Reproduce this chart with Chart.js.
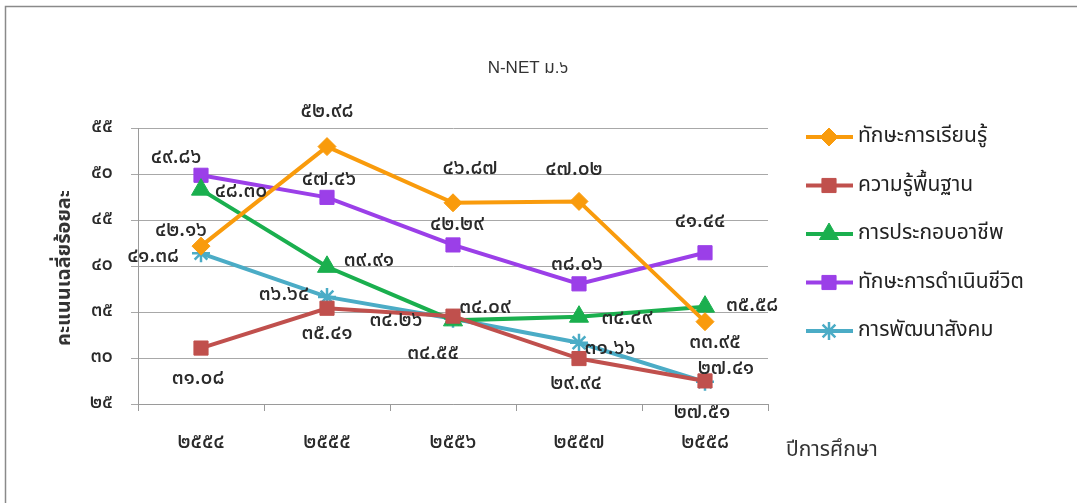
<!DOCTYPE html>
<html>
<head>
<meta charset="utf-8">
<script src="https://cdn.jsdelivr.net/npm/chart.js@4"></script>
<style>
  html, body { margin: 0; padding: 0; background: #fff; }
  #wrap { position: relative; width: 1077px; height: 503px; }
</style>
</head>
<body>
<div id="wrap"><canvas id="chart" width="1077" height="503"></canvas></div>
<script>
const years = ['2554', '2555', '2556', '2557', '2558'];
const seriesNames = ['ทักษะการเรียนรู้', 'ความรู้พื้นฐาน', 'การประกอบอาชีพ', 'ทักษะการดำเนินชีวิต', 'การพัฒนาสังคม'];
const learning = [42.16, 52.98, 46.87, 47.02, 33.95];
const basic = [31.08, 35.41, 34.55, 29.94, 27.51];
const career = [48.30, 39.91, 34.09, 34.49, 35.58];
const living = [49.86, 47.46, 42.29, 38.06, 41.44];
const social = [41.38, 36.64, 34.26, 31.66, 27.41];
const yTicks = [25, 30, 35, 40, 45, 50, 55];

// label offsets from each point, [dx, dy]
const labelOffsets = [
  [[-20, -14], [0, -34], [17, -33], [-5, -31], [10, 22]],
  [[-3, 32], [0, 27], [-20, 39], [-3, 26], [-3, 33]],
  [[40, 3], [42, -5], [32, -12], [48, 3], [47, 0]],
  [[-25, -17], [2, -17], [4, -19], [-2, -18], [-5, -30]],
  [[-48, 4], [-43, -1], [-57, 3], [31, 7], [21, -12]]
];

const thaiDigits = '๐๑๒๓๔๕๖๗๘๙';
function toThai(s) {
  return String(s).replace(/[0-9]/g, d => thaiDigits[+d]);
}

const colors = ['#F99B0C', '#C0504D', '#1AAF4E', '#9B3FE8', '#4BACC6'];
const styles = ['rectRot', 'rect', 'triangle', 'rect', 'star'];
const radii = [9, 10, 11, 10, 9];
const seriesData = [learning, basic, career, living, social];

const thaiFont = '"Noto Sans Thai", "Noto Sans", "DejaVu Sans", sans-serif';

const extras = {
  id: 'extras',
  afterDatasetsDraw(chart) {
    const c = chart.ctx;
    c.save();
    // data labels
    c.fillStyle = '#2a2a2a';
    c.font = '500 21px ' + thaiFont;
    c.textAlign = 'center';
    c.textBaseline = 'middle';
    chart.data.datasets.forEach((ds, i) => {
      chart.getDatasetMeta(i).data.forEach((pt, j) => {
        const off = labelOffsets[i][j];
        c.fillText(toThai(ds.data[j].toFixed(2)), pt.x + off[0], pt.y + off[1]);
      });
    });
    // title
    c.fillStyle = '#333';
    c.font = '17px "Liberation Sans", ' + thaiFont;
    c.fillText('N-NET ม.' + toThai(6), 528, 68);
    // axis titles
    c.font = '21px ' + thaiFont;
    c.textAlign = 'left';
    c.fillText('ปีการศึกษา', 786, 452);
    c.save();
    c.translate(66, 268);
    c.rotate(-Math.PI / 2);
    c.textAlign = 'center';
    c.font = 'bold 20px ' + thaiFont;
    c.fillText('คะแนนเฉลี่ยร้อยละ', 0, 0);
    c.restore();
    // legend
    chart.data.datasets.forEach((ds, i) => {
      const y = 137 + i * 48.5;
      c.strokeStyle = ds.borderColor;
      c.fillStyle = ds.backgroundColor;
      c.lineWidth = 4;
      c.beginPath();
      c.moveTo(806, y);
      c.lineTo(853, y);
      c.stroke();
      c.lineWidth = ds.pointBorderWidth;
      Chart.helpers.drawPoint(c, {
        pointStyle: ds.pointStyle, radius: ds.pointRadius, borderWidth: ds.pointBorderWidth
      }, 829, y);
      c.fillStyle = '#222';
      c.font = '21px ' + thaiFont;
      c.textAlign = 'left';
      c.fillText(ds.label, 858, y + 1);
    });
    // frame
    c.strokeStyle = '#8a8a8a';
    c.lineWidth = 1.5;
    c.beginPath();
    c.moveTo(5.5, 520);
    c.lineTo(5.5, 6.5);
    c.lineTo(1090, 6.5);
    c.stroke();
    c.restore();
  }
};

new Chart(document.getElementById('chart'), {
  type: 'line',
  data: {
    labels: years,
    datasets: seriesData.map((d, i) => ({
      label: seriesNames[i],
      data: d,
      borderColor: colors[i],
      backgroundColor: colors[i],
      borderWidth: 4,
      pointStyle: styles[i],
      pointRadius: radii[i],
      pointHoverRadius: radii[i],
      pointBackgroundColor: colors[i],
      pointBorderColor: colors[i],
      pointBorderWidth: i === 4 ? 2.5 : 1,
      tension: 0
    }))
  },
  options: {
    responsive: false,
    animation: false,
    events: [],
    layout: { padding: { left: 0, right: 309, top: 128, bottom: 0 } },
    plugins: {
      legend: { display: false },
      title: { display: false },
      tooltip: { enabled: false }
    },
    scales: {
      x: {
        offset: true,
        grid: {
          offset: true,
          drawOnChartArea: false,
          drawTicks: true,
          tickLength: 7,
          color: '#9a9a9a'
        },
        border: { color: '#9a9a9a' },
        ticks: {
          padding: 20,
          color: '#2a2a2a',
          font: { size: 21, weight: '500', family: thaiFont },
          callback: (v, i) => toThai(years[i])
        },
        afterFit(scale) { scale.height = 99; }
      },
      y: {
        min: 25,
        max: 55,
        afterBuildTicks(scale) { scale.ticks = yTicks.map(v => ({ value: v })); },
        grid: { color: '#a8a8a8', tickLength: 7 },
        border: { color: '#9a9a9a' },
        ticks: {
          padding: 18,
          color: '#2a2a2a',
          font: { size: 20, weight: '500', family: thaiFont },
          callback: v => toThai(v)
        },
        afterFit(scale) { scale.width = 138; }
      }
    }
  },
  plugins: [extras]
});
</script>
</body>
</html>
